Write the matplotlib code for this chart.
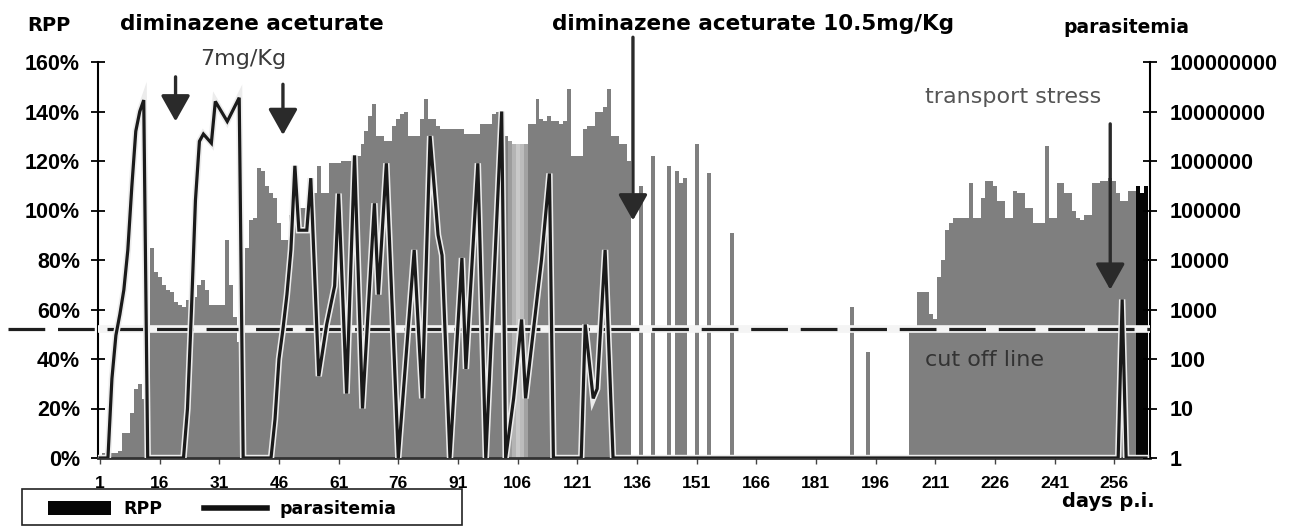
import numpy as np
import matplotlib
matplotlib.use('Agg')
import matplotlib.pyplot as plt
import matplotlib.patheffects as pe
from matplotlib.patches import Patch, Rectangle
from matplotlib.lines import Line2D
from matplotlib.transforms import blended_transform_factory

# RPP (%) per day p.i., days 1..264
rpp = [
    0, 2, 2, 2, 2, 3, 10, 10, 18, 28,
    30, 24, 5, 85, 75, 73, 70, 68, 67, 63,
    62, 61, 64, 66, 65, 70, 72, 68, 62, 62,
    62, 62, 88, 70, 57, 47, 45, 85, 96, 97,
    117, 116, 110, 107, 105, 95, 88, 88, 98, 101,
    101, 101, 101, 101, 107, 118, 107, 107, 119, 119,
    119, 120, 120, 120, 120, 122, 127, 132, 138, 143,
    130, 130, 128, 128, 134, 137, 139, 140, 130, 130,
    130, 137, 145, 137, 137, 134, 133, 133, 133, 133,
    133, 133, 131, 131, 131, 131, 135, 135, 135, 139,
    140, 140, 130, 128, 127, 127, 127, 127, 135, 135,
    145, 137, 136, 138, 136, 136, 135, 136, 149, 122,
    122, 122, 133, 134, 134, 140, 140, 142, 149, 130,
    130, 127, 127, 120, 0, 0, 110, 0, 0, 122,
    0, 0, 0, 118, 0, 116, 111, 113, 0, 0,
    127, 0, 0, 115, 0, 0, 0, 0, 0, 91,
    0, 0, 0, 0, 0, 0, 0, 0, 0, 0,
    0, 0, 0, 0, 0, 0, 0, 0, 0, 0,
    0, 0, 0, 0, 0, 0, 0, 0, 0, 61,
    0, 0, 0, 43, 0, 0, 0, 0, 0, 0,
    0, 0, 0, 0, 53, 53, 67, 67, 67, 58,
    56, 73, 80, 92, 95, 97, 97, 97, 97, 111,
    97, 97, 105, 112, 112, 110, 104, 104, 97, 97,
    108, 107, 107, 101, 101, 95, 95, 95, 126, 97,
    97, 111, 111, 107, 107, 100, 97, 96, 98, 98,
    111, 111, 112, 112, 113, 112, 107, 104, 104, 108,
    108, 110, 107, 110,
]
days = np.arange(1, len(rpp) + 1)

# parasitemia (parasites/ml) on sampling days, 0 = not detected
para_days = [1, 3, 4, 5, 6, 7, 8, 9, 10, 11, 12, 13,
             22, 23, 24, 25, 26, 27, 29, 30, 33, 36, 37,
             44, 45, 46, 47, 48, 49, 50, 51, 53, 54, 56, 58, 60, 61,
             63, 65, 67, 70, 71, 73, 76, 80, 82, 84, 86, 87, 89,
             92, 93, 96, 98, 102, 103, 105, 107, 108, 110, 112, 114, 115,
             122, 123, 125, 126, 128, 130, 257, 258, 259, 264]
para_vals = [0, 0, 40, 300, 800, 2500, 16000, 3e5, 4e6, 1e7, 1.7e7, 0,
             0, 10, 1000, 1.6e5, 2.5e6, 3.5e6, 2.3e6, 1.6e7, 6.3e6, 1.9e7, 0,
             0, 6, 100, 400, 2000, 16000, 8e5, 40000, 40000, 4.5e5, 45, 500, 3000, 2.2e5,
             20, 1.3e6, 10, 1.4e5, 2000, 9e5, 0, 16000, 16, 3.2e6, 32000, 12500, 0,
             11000, 63, 9e5, 0, 1e7, 0, 16, 630, 16, 400, 10000, 5.6e5, 0,
             0, 500, 16, 25, 16000, 0, 0, 1600, 0, 0]

treatment_days = [20, 47, 135, 255]
cutoff_rpp = 52

x_ticks = list(range(1, 257, 15))
rpp_ticks = list(range(0, 161, 20))
rpp_ticklabels = ['%d%%' % v for v in rpp_ticks]
para_ticks = [10 ** k for k in range(9)]
para_ticklabels = [str(v) for v in para_ticks]

W, H = 1294, 526


def fx(px):
    return px / W


def fy(py):
    return 1 - py / H


bold = {'family': 'DejaVu Sans', 'weight': 'bold'}
tickfont = {'family': 'Liberation Sans', 'weight': 'bold'}

fig = plt.figure(figsize=(W / 100, H / 100), dpi=100)
ax = fig.add_axes([fx(98), fy(458), (1150 - 98) / W, (458 - 62) / H])
ax2 = ax.twinx()

# bars: grey, a paler band around day 105, last days dark
bar_colors = ['#7f7f7f'] * len(days)
for d, c in {104: '#9c9c9c', 105: '#b4b4b4', 106: '#c9c9c9', 107: '#bcbcbc',
             108: '#a2a2a2'}.items():
    bar_colors[d - 1] = c
for d in range(262, len(days) + 1):
    bar_colors[d - 1] = '#050505'
ax.bar(days, rpp, width=1.0, color=bar_colors, linewidth=0, zorder=2)

ax.set_xlim(0.5, 265)
ax.set_ylim(0, 160)
ax.set_xticks(x_ticks)
ax.set_xticklabels([str(t) for t in x_ticks], fontdict=tickfont, fontsize=12.5)
ax.set_yticks(rpp_ticks)
ax.set_yticklabels(rpp_ticklabels, fontdict=tickfont, fontsize=15.5)
ax.tick_params(axis='y', direction='inout', length=10, width=1.3, pad=8)
ax.tick_params(axis='x', direction='out', length=4, width=1.0, pad=9,
               color='#444')
for s in ['top', 'right']:
    ax.spines[s].set_visible(False)
ax.spines['left'].set_linewidth(1.5)
ax.spines['bottom'].set_linewidth(2.0)
ax.spines['bottom'].set_color('#333')

ax2.set_yscale('log')
ax2.set_ylim(1, 1e8)
ax2.set_yticks(para_ticks)
ax2.set_yticklabels(para_ticklabels, fontdict=tickfont, fontsize=15.5)
ax2.yaxis.set_minor_locator(matplotlib.ticker.NullLocator())
ax2.tick_params(axis='y', direction='inout', length=10, width=1.3, pad=9)
for s in ['top', 'left', 'bottom']:
    ax2.spines[s].set_visible(False)
ax2.spines['right'].set_linewidth(1.5)

# cut off line, runs out past the left axis
tr = blended_transform_factory(ax.transAxes, ax.transData)
ax2.plot([0, 1], [cutoff_rpp, cutoff_rpp], transform=tr, color='#f4f4f4',
         lw=5.5, solid_capstyle='butt', zorder=3)
ax2.plot([-0.0856, 1], [cutoff_rpp, cutoff_rpp], transform=tr, color='#1e1e1e',
         lw=2.3, dashes=(11.5, 4), clip_on=False, zorder=4)

# parasitemia
pv = np.maximum(np.array(para_vals, dtype=float), 1)
ax2.plot(para_days, pv, color='#1a1a1a', lw=2.3, zorder=5,
         solid_joinstyle='miter',
         path_effects=[pe.Stroke(linewidth=4.6, foreground='#ececec'), pe.Normal()])

# treatment arrows (RPP scale)
arrow_tops = [154, 151, 170, 135]
arrow_tips = [136, 130.5, 96, 68]
for d, y0, y1 in zip(treatment_days, arrow_tops, arrow_tips):
    ax2.annotate('', xy=(d, y1), xytext=(d, y0), xycoords=ax.transData,
                 textcoords=ax.transData, annotation_clip=False,
                 arrowprops=dict(arrowstyle='-|>,head_length=0.8,head_width=0.45',
                                 mutation_scale=20, lw=2.4, color='#2a2a2a',
                                 shrinkA=0, shrinkB=0), zorder=6)

# labels
fig.text(fx(27), fy(31), 'RPP', fontdict=bold, fontsize=14, va='baseline')
fig.text(fx(120), fy(30), 'diminazene aceturate', fontdict=bold, fontsize=15.5,
         va='baseline')
fig.text(fx(200), fy(65), '7mg/Kg', family='DejaVu Sans', fontsize=16,
         color='#3a3a3a', va='baseline')
fig.text(fx(552), fy(30), 'diminazene aceturate 10.5mg/Kg', fontdict=bold,
         fontsize=15.5, va='baseline')
fig.text(fx(1063), fy(33), 'parasitemia', fontdict=bold, fontsize=13.5,
         va='baseline')
fig.text(fx(925), fy(103), 'transport stress', family='DejaVu Sans',
         fontsize=16, color='#555555', va='baseline')
fig.text(fx(925), fy(366), 'cut off line', family='DejaVu Sans', fontsize=16,
         color='#333333', va='baseline')
fig.text(fx(1062), fy(507), 'days p.i.', fontdict=bold, fontsize=14,
         va='baseline')

# legend with an Excel-style box around it
handles = [Patch(facecolor='#050505', edgecolor='none'),
           Line2D([0], [0], color='#111111', lw=4)]
fig.legend(handles, ['RPP', 'parasitemia'], ncol=2, loc='center left',
           bbox_to_anchor=(fx(48), fy(509)), borderaxespad=0, borderpad=0,
           frameon=False,
           prop={'family': 'DejaVu Sans', 'weight': 'bold', 'size': 12.5},
           handlelength=3.6, handleheight=0.8, handletextpad=0.75,
           columnspacing=2.4)
fig.add_artist(Rectangle((fx(22), fy(525)), fx(462 - 22), (525 - 489) / H,
                         transform=fig.transFigure, fill=False,
                         edgecolor='#222222', lw=1.2))

fig.savefig('out.png', dpi=100)
